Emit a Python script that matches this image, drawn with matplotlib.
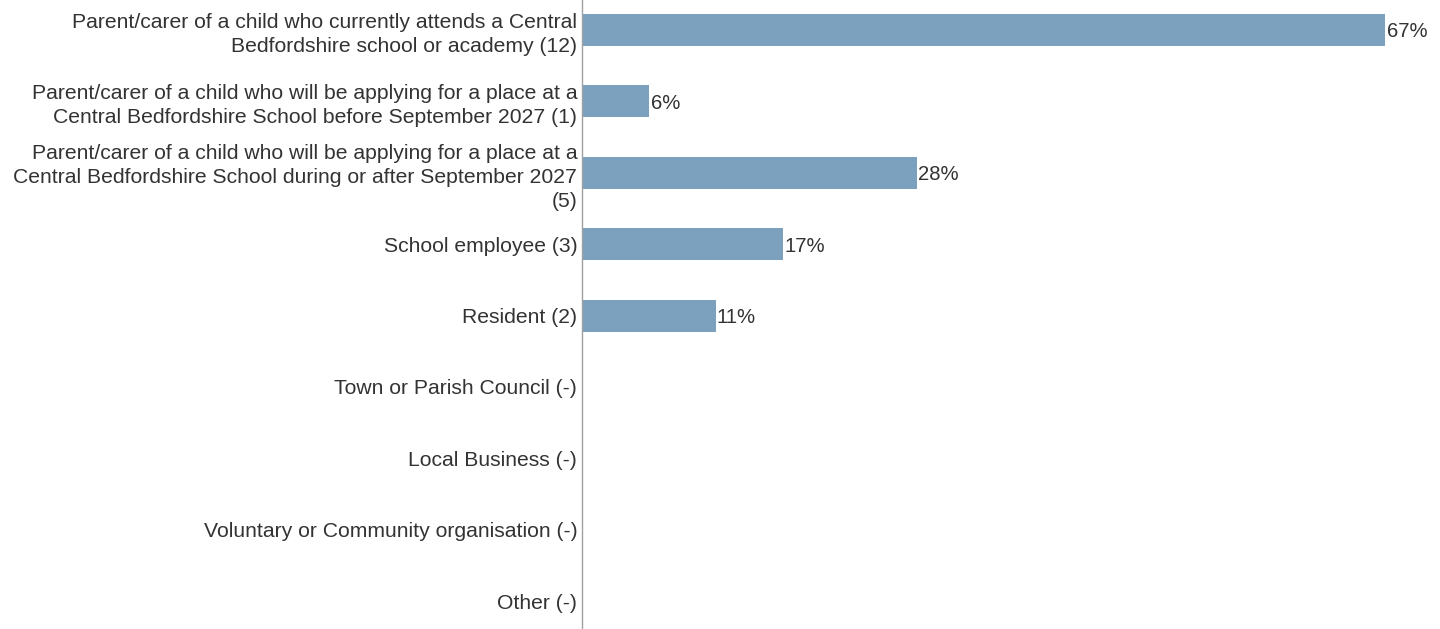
import matplotlib
matplotlib.use("Agg")
from matplotlib import pyplot as plt

categories = [
    "Parent/carer of a child who currently attends a Central\nBedfordshire school or academy (12)",
    "Parent/carer of a child who will be applying for a place at a\nCentral Bedfordshire School before September 2027 (1)",
    "Parent/carer of a child who will be applying for a place at a\nCentral Bedfordshire School during or after September 2027\n(5)",
    "School employee (3)",
    "Resident (2)",
    "Town or Parish Council (-)",
    "Local Business (-)",
    "Voluntary or Community organisation (-)",
    "Other (-)",
]
values = [66.7, 5.6, 27.8, 16.7, 11.1, 0, 0, 0, 0]
value_labels = ["67%", "6%", "28%", "17%", "11%", "", "", "", ""]

plt.rcParams["font.family"] = ["Liberation Sans", "DejaVu Sans"]

fig = plt.figure(figsize=(14.4, 6.29), dpi=100)
ax = fig.add_axes([0.4042, 0.0, 0.5958, 1.0])

pos = list(range(len(categories)))
ax.barh(pos, values, height=0.45, color="#7ba1bf")

for p, v, lab in zip(pos, values, value_labels):
    if lab:
        ax.text(v + 0.1, p, lab, va="center_baseline", ha="left", fontsize=14.6, color="#333333")

ax.set_xlim(0, 71.23)
ax.set_ylim(8.39, -0.42)
ax.set_yticks(pos)
ax.set_yticklabels(categories, fontsize=15.2, color="#333333", linespacing=1.33)
ax.tick_params(axis="y", length=0, pad=3.5)
ax.set_xticks([])
for s in ["top", "right", "bottom"]:
    ax.spines[s].set_visible(False)
ax.spines["left"].set_color("#a0a0a0")
ax.spines["left"].set_linewidth(1)

plt.savefig("out.png", dpi=100)
